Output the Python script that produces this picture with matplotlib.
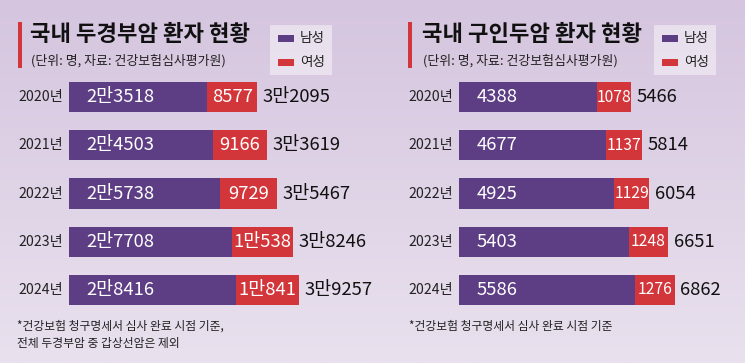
import numpy as np
import matplotlib
matplotlib.use("Agg")
import matplotlib.pyplot as plt
from matplotlib.patches import Rectangle

plt.rcParams['font.family'] = ['Noto Sans CJK KR', 'DejaVu Sans']

years = ["2020년", "2021년", "2022년", "2023년", "2024년"]
left_title = "국내 두경부암 환자 현황"
right_title = "국내 구인두암 환자 현황"
subtitle = "(단위: 명, 자료: 건강보험심사평가원)"
legend_labels = ["남성", "여성"]
left_male = [23518, 24503, 25738, 27708, 28416]
left_female = [8577, 9166, 9729, 10538, 10841]
left_total = [32095, 33619, 35467, 38246, 39257]
right_male = [4388, 4677, 4925, 5403, 5586]
right_female = [1078, 1137, 1129, 1248, 1276]
right_total = [5466, 5814, 6054, 6651, 6862]
left_note = "*건강보험 청구명세서 심사 완료 시점 기준,\n전체 두경부암 중 갑상선암은 제외"
right_note = "*건강보험 청구명세서 심사 완료 시점 기준"

PURPLE = "#5d3e84"
RED = "#d2353a"
W, H = 745, 363
DPI = 100

fig = plt.figure(figsize=(W / DPI, H / DPI), dpi=DPI)

# background gradient
bg = fig.add_axes([0, 0, 1, 1], zorder=-10)
top = np.array([213, 197, 223]) / 255
bot = np.array([233, 225, 238]) / 255
t = np.linspace(0, 1, 256)[:, None]
grad = (top[None, :] * (1 - t) + bot[None, :] * t)[:, None, :]
bg.imshow(grad, aspect='auto', extent=[0, 1, 0, 1])
bg.set_axis_off()


def fx(x):
    return x / W


def fy(y):
    return 1 - y / H


def fmt(v):
    if v >= 10000:
        return f"{v // 10000}만{v % 10000}"
    return str(v)


def panel(x0, male, female, total, px_per_unit, title, title_x, bar_x, legend_x, note, note_x,
          fem_size):
    ax_w = 260
    top_px, bot_px = 72.9, 314.1
    ax = fig.add_axes([fx(x0), fy(bot_px), ax_w / W, (bot_px - top_px) / H])
    ax.set_xlim(0, ax_w / px_per_unit)
    ax.set_ylim(4.5, -0.5)
    ax.set_axis_off()
    y = np.arange(len(years))
    ax.barh(y, male, height=0.63, color=PURPLE, linewidth=0)
    ax.barh(y, female, left=male, height=0.63, color=RED, linewidth=0)
    for i in range(len(years)):
        ax.annotate(years[i], (0, y[i]), xytext=(-4.5, 0), textcoords='offset points',
                    ha='right', va='center', fontsize=10.2, color='#222222')
        ax.annotate(fmt(male[i]), (0, y[i]), xytext=(12.5, 0), textcoords='offset points',
                    ha='left', va='center', fontsize=13.3, color='white')
        ax.text(male[i] + female[i] / 2, y[i], fmt(female[i]), ha='center', va='center',
                fontsize=fem_size, color='white')
        ax.annotate(fmt(total[i]), (male[i] + female[i], y[i]), xytext=(4, 0),
                    textcoords='offset points', ha='left', va='center', fontsize=13.3,
                    color='#111111')
    # title bar and titles
    fig.add_artist(Rectangle((fx(bar_x), fy(68)), 3.5 / W, 46 / H, transform=fig.transFigure,
                             color=RED, lw=0))
    fig.text(fx(title_x), fy(34.5), title, fontsize=16, fontweight='heavy', ha='left',
             va='center', color='#111111')
    fig.text(fx(title_x + 1), fy(61), subtitle, fontsize=9.3, ha='left', va='center',
             color='#222222')
    # legend box
    fig.add_artist(Rectangle((fx(legend_x), fy(75)), 62 / W, 50 / H, transform=fig.transFigure,
                             facecolor='white', alpha=0.45, lw=0))
    for k, (c, lab) in enumerate(zip([PURPLE, RED], legend_labels)):
        yc = 38 + 24 * k
        fig.add_artist(Rectangle((fx(legend_x + 8), fy(yc + 3.5)), 16 / W, 7 / H,
                                 transform=fig.transFigure, color=c, lw=0))
        fig.text(fx(legend_x + 30), fy(yc), lab, fontsize=9.8, ha='left', va='center',
                 color='#222222')
    fig.text(fx(note_x), fy(320), note, fontsize=8.5, ha='left', va='top', color='#222222',
             linespacing=1.4)


panel(69, left_male, left_female, left_total, 138 / 23518, left_title, 30, 18, 270,
      left_note, 17, 13.3)
panel(459, right_male, right_female, right_total, 138 / 4388, right_title, 422, 408, 654,
      right_note, 409, 11.3)

fig.savefig("out.png", dpi=DPI)
